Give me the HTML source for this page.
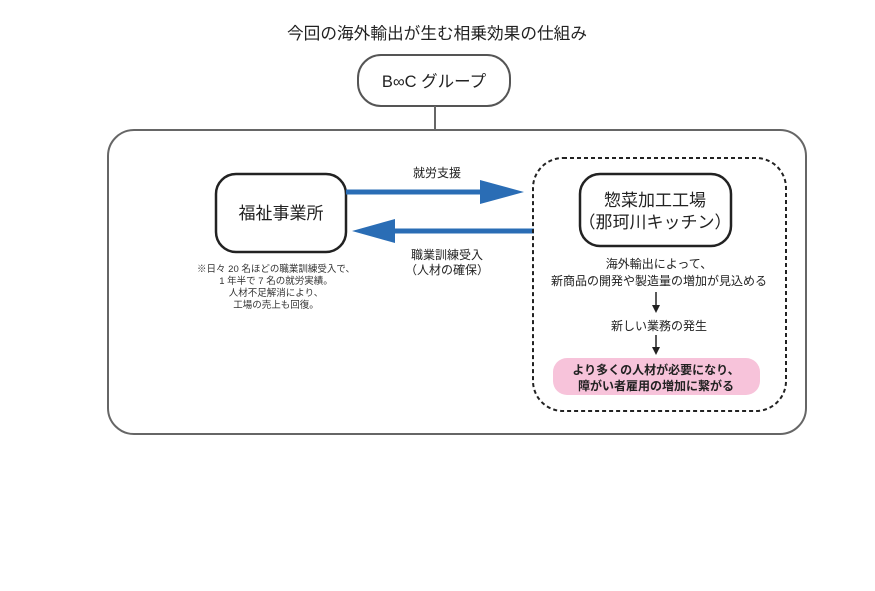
<!DOCTYPE html>
<html><head><meta charset="utf-8"><style>
html,body{margin:0;padding:0;background:#fff;}
svg{display:block;font-family:"Liberation Sans","Noto Sans CJK JP",sans-serif;}
</style></head><body>
<svg width="875" height="591" viewBox="0 0 875 591" xmlns="http://www.w3.org/2000/svg">
<rect width="875" height="591" fill="#fff"/>
<text x="437" y="39" font-size="16.5" text-anchor="middle" fill="#222" textLength="300" lengthAdjust="spacingAndGlyphs">今回の海外輸出が生む相乗効果の仕組み</text>
<rect x="358" y="55" width="152" height="51" rx="23" fill="#fff" stroke="#555" stroke-width="2"/>
<text x="434" y="87" font-size="16.5" text-anchor="middle" fill="#222">B∞C グループ</text>
<line x1="435" y1="106" x2="435" y2="130" stroke="#666" stroke-width="2"/>
<rect x="108" y="130" width="698" height="304" rx="26" fill="none" stroke="#666" stroke-width="2"/>
<rect x="216" y="174" width="130" height="78" rx="20" fill="#fff" stroke="#222" stroke-width="2.5"/>
<text x="281" y="219" font-size="17" text-anchor="middle" fill="#222">福祉事業所</text>
<line x1="346" y1="192" x2="482" y2="192" stroke="#2a6db5" stroke-width="5"/>
<polygon points="480,180 524,192 480,204" fill="#2a6db5"/>
<line x1="534" y1="231" x2="393" y2="231" stroke="#2a6db5" stroke-width="5"/>
<polygon points="395,219 352,231 395,243" fill="#2a6db5"/>
<text x="437" y="177" font-size="12" text-anchor="middle" fill="#222">就労支援</text>
<text x="447" y="259" font-size="12" text-anchor="middle" fill="#222">職業訓練受入</text>
<text x="447" y="274" font-size="12" text-anchor="middle" fill="#222">（人材の確保）</text>
<g font-size="9.5" text-anchor="middle" fill="#333">
<text x="276" y="272">※日々 20 名ほどの職業訓練受入で、</text>
<text x="276" y="284">1 年半で 7 名の就労実績。</text>
<text x="276" y="296">人材不足解消により、</text>
<text x="276" y="308">工場の売上も回復。</text>
</g>
<rect x="533" y="158" width="253" height="253" rx="30" fill="none" stroke="#222" stroke-width="2" stroke-dasharray="4 3"/>
<rect x="580" y="174" width="151" height="72" rx="20" fill="#fff" stroke="#222" stroke-width="2.5"/>
<text x="655" y="206" font-size="17" text-anchor="middle" fill="#222">惣菜加工工場</text>
<text x="655" y="228" font-size="17" text-anchor="middle" fill="#222">（那珂川キッチン）</text>
<text x="659" y="268" font-size="12" text-anchor="middle" fill="#222">海外輸出によって、</text>
<text x="659" y="285" font-size="12" text-anchor="middle" fill="#222">新商品の開発や製造量の増加が見込める</text>
<line x1="656" y1="292" x2="656" y2="306" stroke="#222" stroke-width="1.5"/>
<polygon points="652,305 660,305 656,313" fill="#222"/>
<text x="659" y="330" font-size="12" text-anchor="middle" fill="#222">新しい業務の発生</text>
<line x1="656" y1="335" x2="656" y2="348" stroke="#222" stroke-width="1.5"/>
<polygon points="652,347 660,347 656,355" fill="#222"/>
<rect x="553" y="358" width="207" height="37" rx="14" fill="#f7c3da"/>
<text x="656" y="374" font-size="12" font-weight="bold" text-anchor="middle" fill="#222">より多くの人材が必要になり、</text>
<text x="656" y="390" font-size="12" font-weight="bold" text-anchor="middle" fill="#222">障がい者雇用の増加に繋がる</text>
</svg>
</body></html>
